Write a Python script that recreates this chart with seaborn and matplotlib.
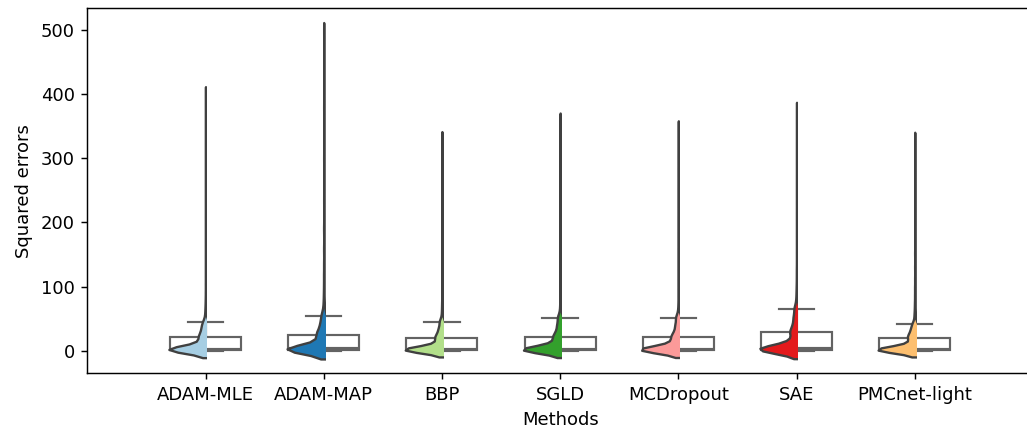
import numpy as np
import pandas as pd
import matplotlib
matplotlib.use("Agg")
import matplotlib.pyplot as plt
from matplotlib.patches import Rectangle
import seaborn as sns

methods = ["ADAM-MLE", "ADAM-MAP", "BBP", "SGLD", "MCDropout", "SAE", "PMCnet-light"]

# how many samples each listed value stands for (shared by all methods)
counts = [100, 100, 100, 100, 150, 100, 60, 90, 50, 45, 35,
          8, 6, 5, 4, 3, 3, 2, 2, 2, 1, 1, 1, 1]

# representative squared-error values, per method
adam_mle = [0, 0.25, 0.6, 1.5, 3.0, 6.0, 12, 21.0, 29, 37, 45.0,
            55, 62, 70, 80, 92, 105, 120, 140, 165, 200, 250, 310, 401]
adam_map = [0, 0.25, 0.6, 1.6, 3.5, 7.0, 14, 24.5, 33, 43, 54.5,
            63, 70, 79, 90, 103, 118, 135, 158, 190, 235, 300, 380, 499]
bbp = [0, 0.20, 0.6, 1.4, 2.8, 5.5, 11, 19.8, 27, 35, 44.8,
       50, 57, 65, 74, 85, 97, 111, 128, 150, 180, 220, 270, 332]
sgld = [0, 0.25, 0.6, 1.5, 3.2, 6.5, 13, 21.5, 30, 40, 51.0,
        56, 63, 71, 81, 93, 106, 121, 140, 165, 200, 245, 295, 360]
mcdropout = [0, 0.25, 0.6, 1.5, 3.2, 6.5, 13, 21.5, 30, 40, 51.0,
             56, 63, 71, 81, 93, 106, 121, 140, 163, 195, 240, 290, 348]
sae = [0, 0.30, 0.8, 2.0, 4.2, 8.5, 17, 29.0, 40, 52, 65.0,
       74, 82, 91, 101, 113, 126, 141, 160, 185, 215, 255, 310, 375]
pmcnet_light = [0, 0.20, 0.6, 1.4, 2.8, 5.5, 11, 20.3, 27, 34, 42.0,
                52, 58, 66, 75, 86, 98, 112, 130, 152, 182, 222, 272, 331]

values = [adam_mle, adam_map, bbp, sgld, mcdropout, sae, pmcnet_light]
yticks = [0, 100, 200, 300, 400, 500]

rows = []
for m, vals in zip(methods, values):
    for v, c in zip(vals, counts):
        rows += [(m, v)] * c
df = pd.DataFrame(rows, columns=["Methods", "Squared errors"])

colors = sns.color_palette("Paired", len(methods))

DPI = 130
fig = plt.figure(figsize=(1027 / DPI, 430 / DPI), dpi=DPI)
ax = fig.add_axes([0.085, 0.1314, 0.9208, 0.85])

sns.boxplot(data=df, x="Methods", y="Squared errors", order=methods, width=0.6,
            showfliers=False, color="white", linecolor="#636363", linewidth=1.2,
            saturation=1, ax=ax)
n_before = len(ax.collections)
sns.violinplot(data=df, x="Methods", y="Squared errors", order=methods,
               inner=None, cut=2, bw_adjust=0.8, density_norm="width", width=0.62,
               color="white", linecolor="#404040", linewidth=1.3, saturation=1, ax=ax)
for i, (coll, col) in enumerate(zip(ax.collections[n_before:], colors)):
    coll.set_facecolor(col)
    coll.set_zorder(3)
    clip = Rectangle((i - 0.5, -1000), 0.5 + 0.008, 3000, transform=ax.transData)
    coll.set_clip_path(clip)

ax.set_xlim(-1, 7)
ax.set_ylim(-35.6, 534.6)
ax.set_yticks(yticks)
ax.set_xlabel("Methods")
ax.set_ylabel("Squared errors")

fig.savefig("out.png", dpi=DPI)
